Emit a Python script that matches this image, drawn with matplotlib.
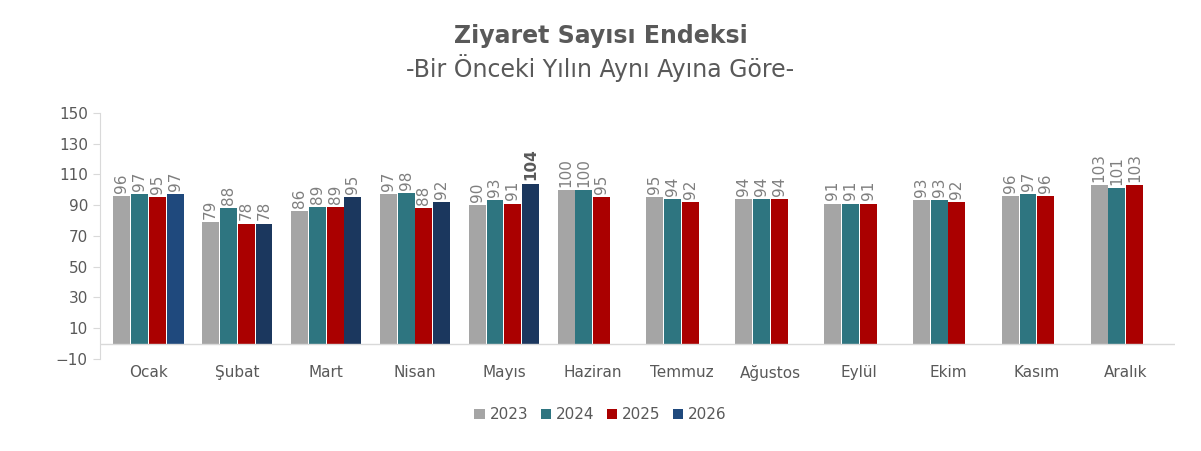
import numpy as np
import matplotlib.pyplot as plt

months = ["Ocak", "Şubat", "Mart", "Nisan", "Mayıs", "Haziran", "Temmuz",
          "Ağustos", "Eylül", "Ekim", "Kasım", "Aralık"]
years = ["2023", "2024", "2025", "2026"]
v2023 = [96, 79, 86, 97, 90, 100, 95, 94, 91, 93, 96, 103]
v2024 = [97, 88, 89, 98, 93, 100, 94, 94, 91, 93, 97, 101]
v2025 = [95, 78, 89, 88, 91, 95, 92, 94, 91, 92, 96, 103]
v2026 = [97, 78, 95, 92, 104]
colors = ["#A5A5A5", "#2E7580", "#AA0000", "#1B375E"]

fig = plt.figure(figsize=(12.01, 4.51), dpi=100)
ax = fig.add_axes([0.083, 0.204, 0.895, 0.546])

x = np.arange(len(months))
w = 0.19
txt = "#7F7F7F"
for i, (vals, c) in enumerate(zip([v2023, v2024, v2025, v2026], colors)):
    xs = x[:len(vals)] + (i - 1.5) * (w + 0.01)
    bc = [c] * len(vals)
    if i == 3:
        bc[0] = "#1F497D"
    ax.bar(xs, vals, width=w, color=bc, label=years[i])
    for j, (xx, v) in enumerate(zip(xs, vals)):
        bold = (i == 3 and j == 4)
        ax.text(xx, v + 2, str(v), rotation=90, ha="center", va="bottom",
                fontsize=11, color="#595959" if bold else txt,
                fontweight="bold" if bold else "normal")

ax.set_ylim(-10, 150)
ax.set_yticks(range(-10, 151, 20))
ax.set_xlim(-0.55, 11.55)
ax.set_xticks(x)
ax.set_xticklabels(months)
ax.axhline(0, color="#D9D9D9", lw=1)
for s in ["top", "right", "bottom"]:
    ax.spines[s].set_visible(False)
ax.spines["left"].set_color("#D9D9D9")
ax.tick_params(axis="y", colors="#D9D9D9", labelcolor="#595959", labelsize=11, length=5)
ax.tick_params(axis="x", length=0, labelcolor="#595959", labelsize=11, pad=4)

fig.text(0.5, 0.905, "Ziyaret Sayısı Endeksi", ha="center", fontsize=17,
         fontweight="bold", color="#595959")
fig.text(0.5, 0.83, "-Bir Önceki Yılın Aynı Ayına Göre-", ha="center",
         fontsize=17, color="#595959")
fig.legend(loc="center", bbox_to_anchor=(0.5, 0.08), ncol=4, frameon=False,
           fontsize=11, handlelength=0.7, handleheight=0.7, columnspacing=0.8,
           handletextpad=0.3, labelcolor="#595959")

fig.savefig("out.png")
